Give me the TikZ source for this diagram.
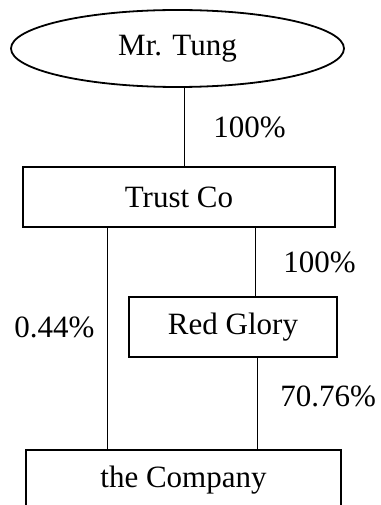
\documentclass[tikz,border=0pt]{standalone}
\usepackage{fontspec}
\setmainfont{Liberation Serif}
\usetikzlibrary{shapes.geometric, calc}

\begin{document}
\begin{tikzpicture}[
  x=1pt, y=-1pt,
  % --- styles ------------------------------------------------------------
  owner/.style={
    ellipse, draw, line width=1.8pt, inner sep=0pt,
    minimum width=333pt, minimum height=77pt,
    font=\fontsize{31}{37}\selectfont
  },
  box/.style={
    rectangle, draw, line width=1.8pt, inner sep=0pt,
    minimum height=60pt,
    font=\fontsize{31}{37}\selectfont
  },
  link/.style={line width=0.9pt},
  share/.style={inner sep=0pt, font=\fontsize{31}{37}\selectfont}
]

\clip (0,0) rectangle (380,505);

% --------------------- entities -----------------------------------------
\node[owner] (tung) at (177.5,48.5) {Mr. Tung};
\node[box, minimum width=312pt] (trust) at (179,197) {Trust Co};
\node[box, minimum width=208pt] (glory) at (233,327) {Red Glory};
\node[box, minimum width=315pt] (company) at (183.5,480) {the Company};

% --------------------- shareholdings ------------------------------------
\coordinate (tungfoot) at ($(tung.south)+(6.5,0)$);
\draw[link] (tungfoot) -- node[share, right=29pt] {100\%} (tungfoot |- trust.north);

\draw[link] ([xshift=22pt]glory.north |- trust.south) -- node[share, right=28pt] {100\%} ([xshift=22pt]glory.north);

\draw[link] ([xshift=-72pt]trust.south) -- node[share, pos=0.45, left=12pt] {0.44\%} ([xshift=-72pt]trust.south |- company.north);

\draw[link] ([xshift=24pt]glory.south) -- node[share, pos=0.42, right=23pt] {70.76\%} ([xshift=24pt]glory.south |- company.north);

\end{tikzpicture}
\end{document}
